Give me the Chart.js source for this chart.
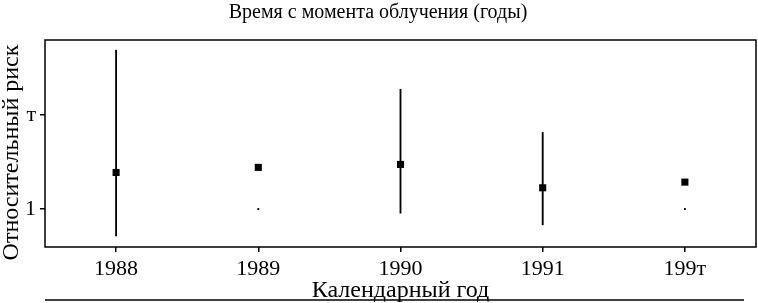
<!DOCTYPE html>
<html>
<head>
<meta charset="utf-8">
<script src="https://cdn.jsdelivr.net/npm/chart.js@4"></script>
<style>
  html, body { margin: 0; padding: 0; background: #fff; }
  #wrap { width: 758px; height: 303px; }
</style>
</head>
<body>
<div id="wrap"><canvas id="chart" width="758" height="303"></canvas></div>
<script>
// данные -----------------
const years = [1988, 1989, 1990, 1991, 1992];
const yearLabels = ['1988', '1989', '1990', '1991', '199т'];
const risk = [1.31, 1.36, 1.39, 1.17, 1.22];
const ciLow = [0.82, 0.995, 0.97, 0.89, 0.995];
const ciHigh = [3.23, 1.005, 2.42, 1.76, 1.005];
const yTicks = [1, 2];
const yTickLabels = ['1', 'т'];

const fontFamily = "'Liberation Serif', 'DejaVu Serif', serif";

// рамка и линия внизу
const framePlugin = {
  id: 'frame',
  afterDraw(chart) {
    const { ctx, chartArea } = chart;
    ctx.save();
    ctx.strokeStyle = '#000';
    ctx.lineWidth = 1.5;
    ctx.strokeRect(chartArea.left, chartArea.top, chartArea.right - chartArea.left, chartArea.bottom - chartArea.top);
    ctx.beginPath();
    ctx.moveTo(chartArea.left, 300);
    ctx.lineTo(744, 300);
    ctx.stroke();
    ctx.restore();
  }
};

new Chart(document.getElementById('chart'), {
  data: {
    datasets: [
      {
        type: 'scatter',
        data: years.map((x, i) => ({ x: x, y: risk[i] })),
        pointStyle: 'rect',
        pointRadius: 5,
        backgroundColor: '#000',
        borderColor: '#000',
        borderWidth: 0,
        order: 0
      },
      {
        type: 'bar',
        data: years.map((x, i) => ({ x: x, y: [ciLow[i], ciHigh[i]] })),
        backgroundColor: '#000',
        borderWidth: 0,
        barThickness: 1.2,
        order: 1
      }
    ]
  },
  options: {
    responsive: false,
    animation: false,
    layout: { autoPadding: false, padding: { left: 0, right: 2, top: 0, bottom: 0 } },
    plugins: {
      legend: { display: false },
      tooltip: { enabled: false },
      title: {
        display: true,
        text: 'Время с момента облучения (годы)',
        color: '#000',
        font: { family: fontFamily, size: 20, weight: 'normal', lineHeight: 1.25 },
        padding: { top: 0, bottom: 15 }
      }
    },
    scales: {
      x: {
        type: 'linear',
        offset: false,
        min: 1987.5,
        max: 1992.5,
        afterBuildTicks: (axis) => { axis.ticks = years.map(v => ({ value: v })); },
        afterFit: (axis) => { axis.height = 56; axis.paddingLeft = 0; axis.paddingRight = 0; },
        grid: { display: true, offset: false, drawOnChartArea: false, drawTicks: true, tickLength: 5, color: '#000', lineWidth: 1.5 },
        border: { display: false },
        ticks: {
          color: '#000',
          padding: 4,
          maxRotation: 0,
          autoSkip: false,
          font: { family: fontFamily, size: 22 },
          callback: (v) => yearLabels[years.indexOf(v)]
        },
        title: {
          display: true,
          text: 'Календарный год',
          color: '#000',
          font: { family: fontFamily, size: 24, lineHeight: 1 },
          padding: { top: 0, bottom: 0 }
        }
      },
      y: {
        type: 'logarithmic',
        min: 0.756,
        max: 3.48,
        afterBuildTicks: (axis) => { axis.ticks = yTicks.map(v => ({ value: v })); },
        afterFit: (axis) => { axis.width = 45; },
        grid: { display: true, drawOnChartArea: false, drawTicks: true, tickLength: 5, color: '#000', lineWidth: 1.5 },
        border: { display: false },
        ticks: {
          color: '#000',
          padding: 4,
          font: { family: fontFamily, size: 22 },
          callback: (v) => yTickLabels[yTicks.indexOf(v)]
        },
        title: {
          display: true,
          text: 'Относительный риск   ',
          color: '#000',
          font: { family: fontFamily, size: 24, lineHeight: 1 },
          padding: { top: 0, bottom: 0 }
        }
      }
    }
  },
  plugins: [framePlugin]
});
</script>
</body>
</html>
